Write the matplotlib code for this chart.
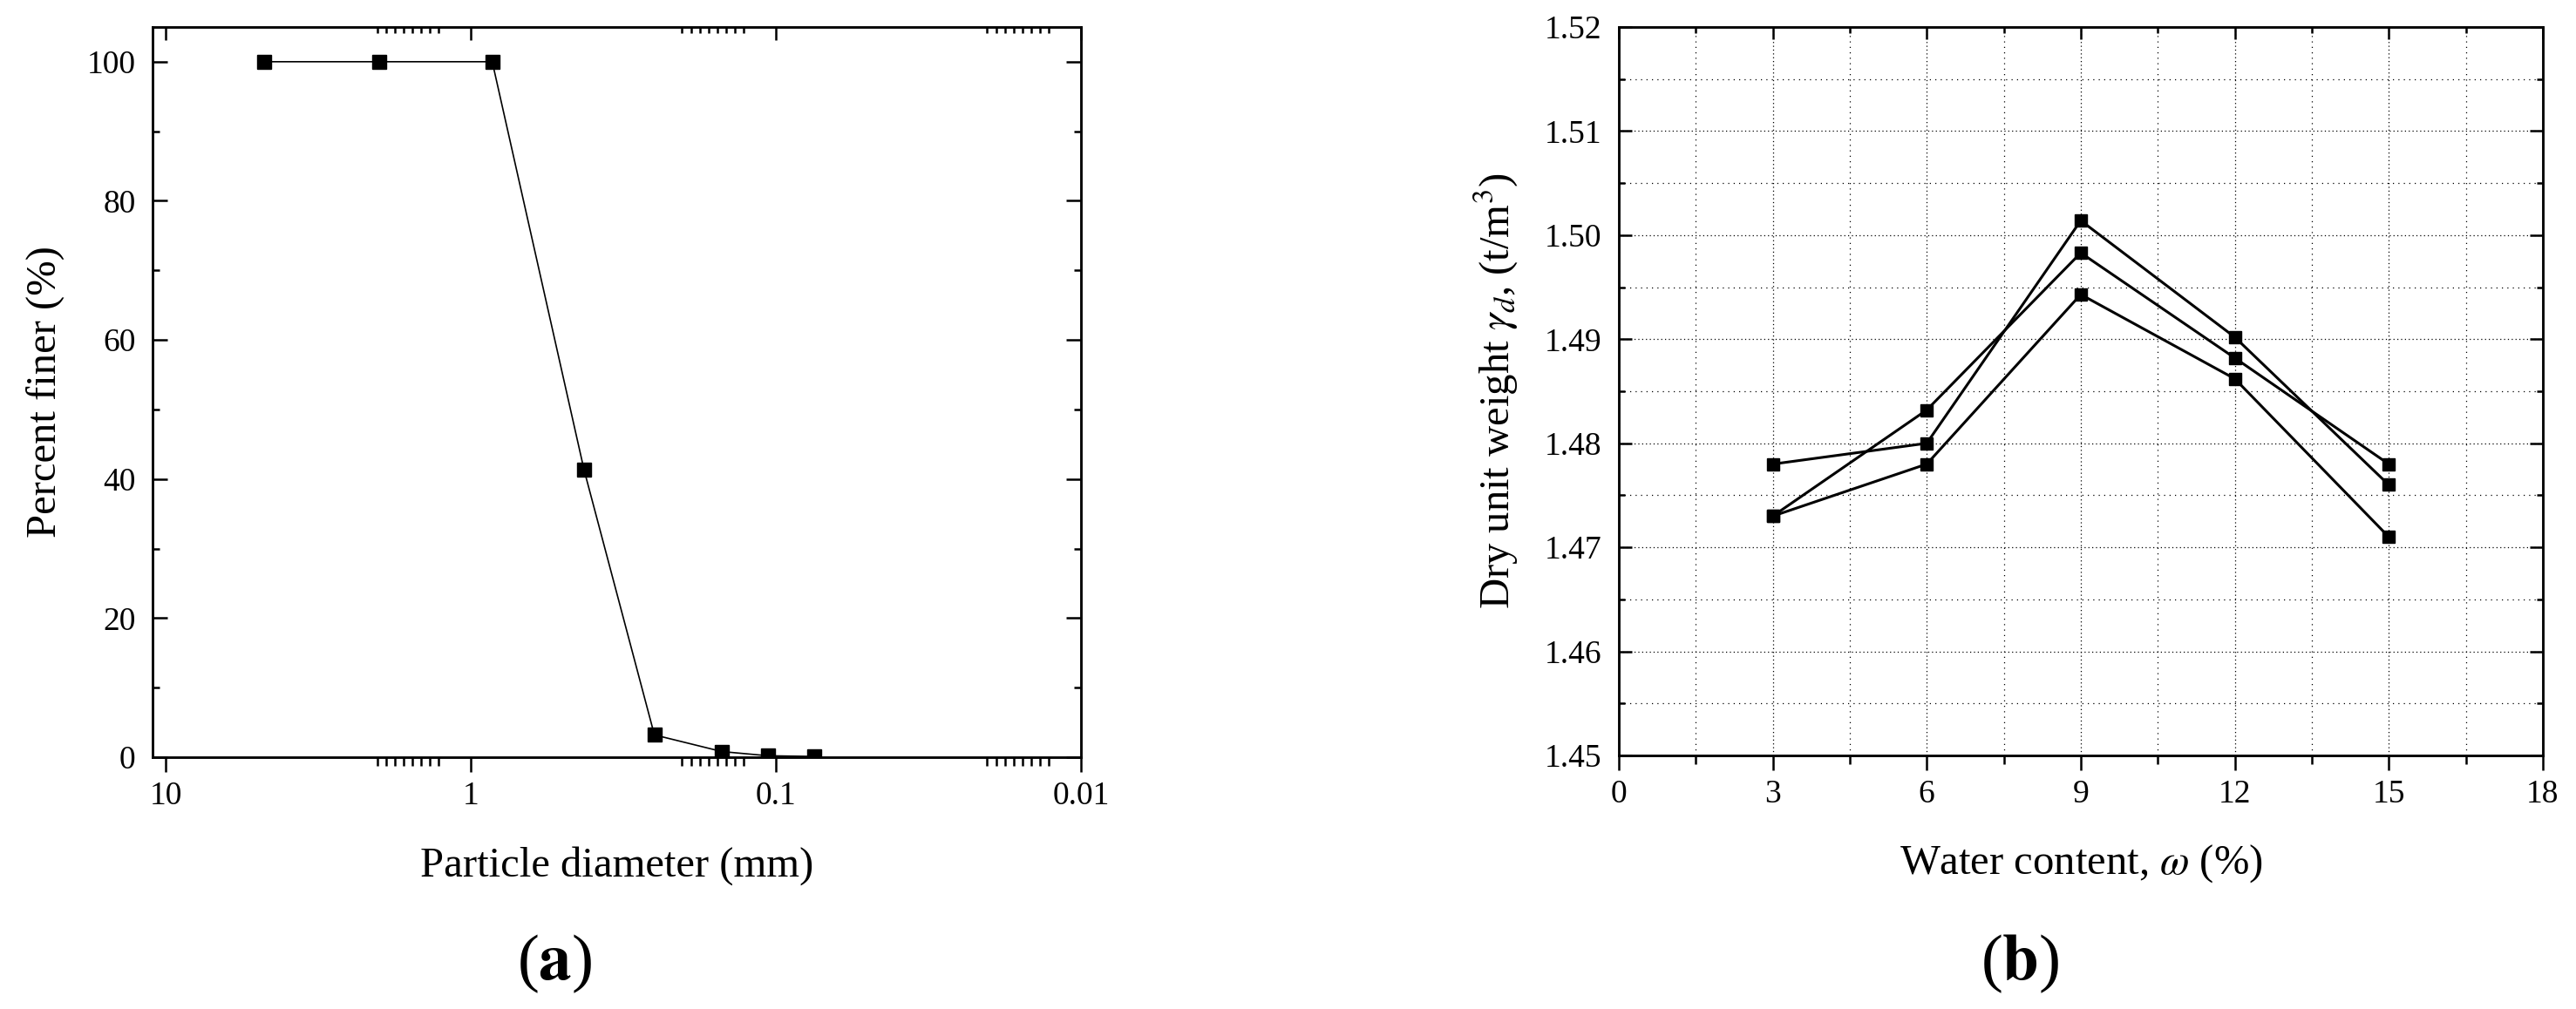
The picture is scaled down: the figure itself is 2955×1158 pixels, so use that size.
import matplotlib
matplotlib.use('Agg')
import matplotlib.pyplot as plt
import numpy as np
from matplotlib.ticker import FixedLocator, MultipleLocator, NullFormatter, FormatStrFormatter

plt.rcParams['font.family'] = ['Liberation Serif', 'DejaVu Serif']
plt.rcParams['mathtext.fontset'] = 'stix'

# (a) 粒度分布
diameter = [4.75, 2.0, 0.85, 0.425, 0.25, 0.15, 0.106, 0.075]
finer = [100, 100, 100, 41.3, 3.2, 0.8, 0.2, 0.1]

# (b) 締固め曲線
water = [3, 6, 9, 12, 15]
dry_1 = [1.478, 1.480, 1.5014, 1.4902, 1.476]
dry_2 = [1.473, 1.4832, 1.4983, 1.4882, 1.478]
dry_3 = [1.473, 1.478, 1.4943, 1.4862, 1.471]

x_major = [10, 1, 0.1, 0.01]
x_major_labels = ['10', '1', '0.1', '0.01']

fig = plt.figure(figsize=(29.55, 11.58), dpi=100)

TICK_FS = 27
LABEL_FS = 35
SPINE_W = 1.8

# ---- (a) ----
ax1 = fig.add_axes([0.0592, 0.2496, 0.3604, 0.7237])
ax1.plot(diameter, finer, color='k', lw=1.2, marker='s', ms=12)
ax1.set_xscale('log')
ax1.set_xlim(11.04, 0.01)
ax1.set_ylim(0, 105)

# Originの図と同じ位置に補助目盛を置く
minor = []
for d in [1, 0, -1]:
    for f in np.linspace(0.693, 0.895, 8):
        minor.append(10 ** (d - f))

ax1.xaxis.set_major_locator(FixedLocator(x_major))
ax1.set_xticklabels(x_major_labels)
ax1.xaxis.set_minor_locator(FixedLocator(minor))
ax1.xaxis.set_minor_formatter(NullFormatter())
ax1.yaxis.set_major_locator(MultipleLocator(20))
ax1.yaxis.set_minor_locator(MultipleLocator(10))
ax1.tick_params(axis='x', which='major', direction='out', length=12, width=SPINE_W,
                labelsize=TICK_FS, pad=8)
ax1.tick_params(axis='x', which='minor', direction='out', length=7, width=SPINE_W)
ax1.tick_params(axis='y', which='major', direction='in', length=12, width=SPINE_W,
                right=True, labelsize=TICK_FS, pad=14)
ax1.tick_params(axis='y', which='minor', direction='in', length=6, width=SPINE_W, right=True)

top1 = ax1.twiny()
top1.set_xscale('log')
top1.set_xlim(ax1.get_xlim())
top1.xaxis.set_major_locator(FixedLocator(x_major))
top1.xaxis.set_minor_locator(FixedLocator(minor))
top1.tick_params(axis='x', which='major', direction='in', length=11, width=SPINE_W, labeltop=False)
top1.tick_params(axis='x', which='minor', direction='in', length=5, width=SPINE_W, labeltop=False)

for a in (ax1, top1):
    for s in a.spines.values():
        s.set_linewidth(SPINE_W)

ax1.set_xlabel('Particle diameter (mm)', fontsize=LABEL_FS, labelpad=29)
ax1.set_ylabel('Percent finer (%)', fontsize=LABEL_FS, labelpad=18)

# ---- (b) ----
ax2 = fig.add_axes([0.6284, 0.2513, 0.3587, 0.7219])
for vals in (dry_1, dry_2, dry_3):
    ax2.plot(water, vals, color='k', lw=2.2, marker='s', ms=9.5)
ax2.set_xlim(0, 18)
ax2.set_ylim(1.45, 1.52)
ax2.xaxis.set_major_locator(MultipleLocator(3))
ax2.xaxis.set_minor_locator(MultipleLocator(1.5))
ax2.yaxis.set_major_locator(MultipleLocator(0.01))
ax2.yaxis.set_minor_locator(MultipleLocator(0.005))
ax2.yaxis.set_major_formatter(FormatStrFormatter('%.2f'))
ax2.set_axisbelow(True)
ax2.grid(which='major', color='k', lw=0.9, ls=(0, (1, 2.5)))
ax2.grid(which='minor', color='k', lw=0.9, ls=(0, (1, 4)))
ax2.tick_params(axis='x', which='major', direction='out', length=12, width=SPINE_W,
                labelsize=TICK_FS, pad=8)
ax2.tick_params(axis='x', which='minor', direction='out', length=7, width=SPINE_W)
ax2.tick_params(axis='y', which='major', direction='in', length=11, width=SPINE_W,
                right=True, labelsize=TICK_FS, pad=14)
ax2.tick_params(axis='y', which='minor', direction='in', length=5, width=SPINE_W, right=True)

top2 = ax2.twiny()
top2.set_xlim(ax2.get_xlim())
top2.xaxis.set_major_locator(MultipleLocator(3))
top2.xaxis.set_minor_locator(MultipleLocator(1.5))
top2.tick_params(axis='x', which='major', direction='in', length=10, width=SPINE_W, labeltop=False)
top2.tick_params(axis='x', which='minor', direction='in', length=5, width=SPINE_W, labeltop=False)

for a in (ax2, top2):
    for s in a.spines.values():
        s.set_linewidth(SPINE_W)

ax2.set_xlabel(r'Water content, $\omega$ (%)', fontsize=LABEL_FS, labelpad=27)
ax2.set_ylabel(r'Dry unit weight $\gamma_d$, (t/m$^3$)', fontsize=LABEL_FS, labelpad=20)

fig.text(0.2152, 0.045, r'($\mathbf{a}$)', fontsize=54, ha='center', va='center')
fig.text(0.7841, 0.045, r'($\mathbf{b}$)', fontsize=54, ha='center', va='center')

fig.savefig('out.png', dpi=100)
